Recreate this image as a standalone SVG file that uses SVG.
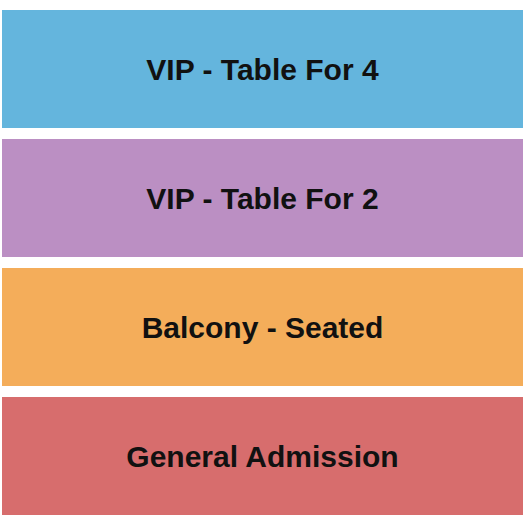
<svg xmlns="http://www.w3.org/2000/svg" width="525" height="525" viewBox="0 0 525 525">
<style>
rect{stroke:none}
text{font-family:"Liberation Sans",Arial,sans-serif;font-weight:bold;font-size:30px;fill:#111;text-anchor:middle}
</style>
<rect width="525" height="525" fill="#ffffff"/>
<g id="vip4"><rect x="2" y="10" width="521" height="118" fill="#64b5dd"/><text x="262.5" y="80">VIP - Table For 4</text></g>
<g id="vip2"><rect x="2" y="139" width="521" height="118" fill="#bb8fc3"/><text x="262.5" y="209">VIP - Table For 2</text></g>
<g id="balcony"><rect x="2" y="268" width="521" height="118" fill="#f4ad5a"/><text x="262.5" y="338">Balcony - Seated</text></g>
<g id="ga"><rect x="2" y="397" width="521" height="118" fill="#d76d6d"/><text x="262.5" y="467">General Admission</text></g>
<g id="connectors"></g>
</svg>
